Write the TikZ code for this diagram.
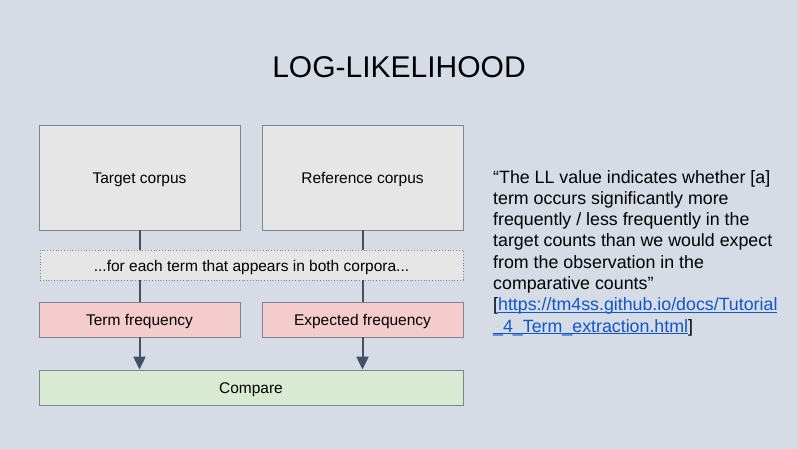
\documentclass[tikz,border=0pt]{standalone}
\usepackage{fontspec}
\setmainfont{Liberation Sans}
\usetikzlibrary{arrows.meta, positioning}
\definecolor{slidebg}{HTML}{D6DCE5}
\definecolor{boxline}{HTML}{7D8591}
\definecolor{boxgrey}{HTML}{E6E6E6}
\definecolor{boxred}{HTML}{F4CCCC}
\definecolor{boxgreen}{HTML}{D9EAD3}
\definecolor{flowline}{HTML}{435068}
\definecolor{linkblue}{HTML}{1155CC}
\tikzstyle{corpus} = [rectangle, minimum width=201pt, minimum height=105pt, text centered, text height=12.6pt, text depth=0pt, draw=boxline, line width=0.8pt, fill=boxgrey, font=\fontsize{15.5}{18}\selectfont]
\tikzstyle{loopbox} = [rectangle, minimum width=423pt, minimum height=30pt, text centered, text height=12.6pt, text depth=0pt, draw=boxline, dotted, line width=0.8pt, fill=boxgrey, font=\fontsize{15.5}{18}\selectfont]
\tikzstyle{freq} = [rectangle, minimum width=201pt, minimum height=35pt, text centered, text height=12.6pt, text depth=0pt, draw=boxline, line width=0.8pt, fill=boxred, font=\fontsize{15.5}{18}\selectfont]
\tikzstyle{result} = [rectangle, minimum width=424pt, minimum height=35pt, text centered, text height=12.6pt, text depth=0pt, draw=boxline, line width=0.8pt, fill=boxgreen, font=\fontsize{15.5}{18}\selectfont]
\tikzstyle{link} = [flowline, line width=2pt]
\tikzstyle{arrow} = [flowline, line width=2pt, -{Triangle[length=13pt,width=12pt]}]
\newcommand{\weblink}[1]{\textcolor{linkblue}{\underline{\smash{#1}}}}

\begin{document}
\begin{tikzpicture}[x=1pt, y=-1pt]
		\fill[slidebg] (0,0) rectangle (798,449);
		\useasboundingbox (0,0) rectangle (798,449);
		\node (title) at (399,67) {\fontsize{30}{36}\selectfont LOG-LIKELIHOOD};
		\node (target) [corpus] at (139.5,177.5) {Target corpus};
		\node (ref) [corpus] at (362.5,177.5) {Reference corpus};
		\node (each) [loopbox] at (251.5,265) {...for each term that appears in both corpora...};
		\node (termf) [freq] at (139.5,319.5) {Term frequency};
		\node (expf) [freq] at (362.5,319.5) {Expected frequency};
		\node (cmp) [result] at (251,387.5) {Compare};
		\node (quote) [anchor=north west, inner sep=0pt, align=left, font=\fontsize{17.8}{21.3}\selectfont] at (493,170) {%
			“The LL value indicates whether [a]\\
			term occurs significantly more\\
			frequently / less frequently in the\\
			target counts than we would expect\\
			from the observation in the\\
			comparative counts”\\
			{}[\weblink{https://tm4ss.github.io/docs/Tutorial}\\
			\weblink{\_4\_Term\_extraction.html}]};
		
		\draw [link] (target) -- (target |- each.north);
		\draw [link] (ref) -- (ref |- each.north);
		\draw [link] (target |- each.south) -- (termf);
		\draw [link] (ref |- each.south) -- (expf);
		\draw [arrow] (termf) -- (termf |- cmp.north);
		\draw [arrow] (expf) -- (expf |- cmp.north);
		\end{tikzpicture}
\end{document}
